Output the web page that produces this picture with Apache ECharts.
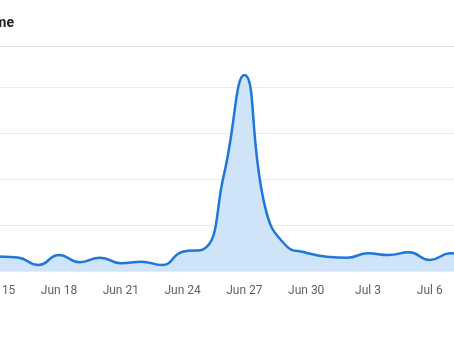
<!DOCTYPE html>
<html>
<head>
<meta charset="utf-8">
<style>
  html, body { margin: 0; padding: 0; background: #ffffff; overflow: hidden; width: 454px; height: 341px; }
  #chart { position: absolute; left: -60px; top: 0; width: 580px; height: 341px; }
</style>
<script src="https://cdn.jsdelivr.net/npm/echarts@6/dist/echarts.min.js"></script>
</head>
<body>
<div id="chart"></div>
<script>
// Daily volume, Jun 14 – Jul 8
const days = [
  'Jun 14', 'Jun 15', 'Jun 16', 'Jun 17', 'Jun 18', 'Jun 19', 'Jun 20', 'Jun 21',
  'Jun 22', 'Jun 23', 'Jun 24', 'Jun 25', 'Jun 26', 'Jun 27', 'Jun 28', 'Jun 29',
  'Jun 30', 'Jul 1', 'Jul 2', 'Jul 3', 'Jul 4', 'Jul 5', 'Jul 6', 'Jul 7', 'Jul 8'
];
const volume = [
  163, 158, 147, 65, 174, 95, 145, 84,
  101, 65, 210, 236, 1040, 2130, 700, 280,
  199, 155, 145, 192, 174, 203, 120, 192, 185
];
// Value axis steps (labels are not shown)
const yTicks = [0, 500, 1000, 1500, 2000];

const chart = echarts.init(document.getElementById('chart'), null, { renderer: 'canvas' });

chart.setOption({
  animation: false,
  graphic: [
    {
      type: 'text',
      style: {
        x: 74, y: 23,
        text: 'Volume',
        textAlign: 'right',
        textVerticalAlign: 'middle',
        font: 'bold 14px Roboto, "Open Sans", sans-serif',
        fill: '#202124'
      }
    },
    {
      type: 'line',
      shape: { x1: 0, y1: 46.5, x2: 580, y2: 46.5 },
      style: { stroke: '#e3e3e3', lineWidth: 1 }
    }
  ],
  grid: { left: 36.6, top: 87, width: 494.4, height: 184 },
  xAxis: {
    type: 'category',
    data: days,
    boundaryGap: false,
    axisLine: { show: false },
    axisTick: { show: false },
    axisLabel: {
      interval: (idx) => (idx - 1) % 3 === 0,
      margin: 14,
      color: '#5f6368',
      fontSize: 12,
      fontFamily: 'Roboto, "Open Sans", sans-serif'
    },
    splitLine: { show: false }
  },
  yAxis: {
    type: 'value',
    min: yTicks[0],
    max: yTicks[yTicks.length - 1],
    interval: yTicks[1] - yTicks[0],
    axisLabel: { show: false },
    axisLine: { show: false },
    axisTick: { show: false },
    splitLine: { lineStyle: { color: '#ebebeb', width: 1 } }
  },
  series: [{
    type: 'line',
    data: volume,
    smooth: 0.5,
    clip: false,
    symbol: 'none',
    lineStyle: { color: '#1f77d8', width: 2.5 },
    areaStyle: { color: '#cfe3f9', opacity: 1 }
  }]
});
</script>
</body>
</html>
